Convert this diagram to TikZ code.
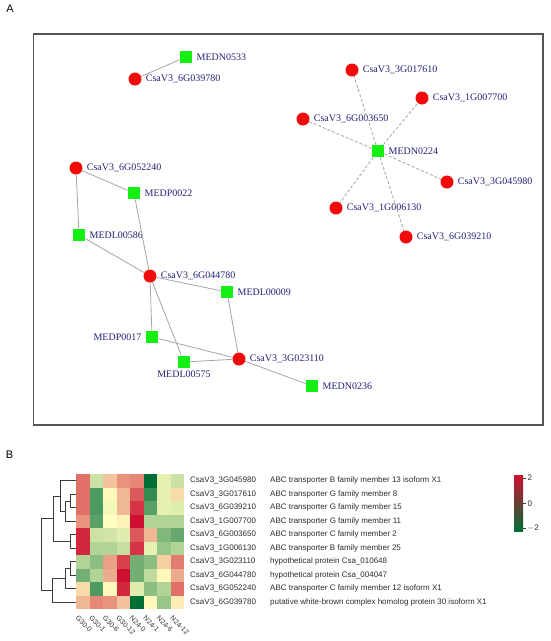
\documentclass[tikz,border=0pt]{standalone}
\usepackage{fontspec}
\setmainfont{Liberation Serif}
\newfontfamily\arialf{Liberation Sans}
\definecolor{netred}{RGB}{240,10,10}
\definecolor{netgreen}{RGB}{20,240,20}
\definecolor{labblue}{RGB}{35,35,120}
\definecolor{edgegray}{RGB}{165,165,165}
\definecolor{boxgray}{RGB}{85,85,85}
\definecolor{hmred}{RGB}{205,16,48}
\definecolor{hmmid}{RGB}{255,255,191}
\definecolor{hmgreen}{RGB}{0,110,55}
\definecolor{dendro}{RGB}{60,60,60}
\definecolor{txtgray}{RGB}{45,45,45}
\tikzset{
  gene/.style={circle, fill=netred, minimum size=13pt, inner sep=0pt},
  met/.style={rectangle, fill=netgreen, minimum size=12.5pt, inner sep=0pt},
  lab/.style={text=labblue, font=\fontsize{10}{11}\selectfont, inner sep=1pt, label distance=3pt},
  edge/.style={draw=edgegray, line width=0.8pt},
  dedge/.style={draw=edgegray, line width=0.8pt, dash pattern=on 3pt off 2pt},
  panel/.style={font=\arialf\fontsize{11}{12}\selectfont, text=black},
  rowlab/.style={font=\arialf\fontsize{8}{9.6}\selectfont, text=txtgray, anchor=west, inner sep=0pt},
  collab/.style={font=\arialf\fontsize{7}{8}\selectfont, text=txtgray, anchor=north west, rotate=-45, inner sep=0pt},
  dline/.style={draw=dendro, line width=0.8pt}
}
\begin{document}
\begin{tikzpicture}[x=1pt,y=-1pt]
\useasboundingbox (0,0) rectangle (550,641);
\fill[white] (0,0) rectangle (550,641);
% panel labels
\node[panel] (pA) at (10,9) {A};
\node[panel] (pB) at (9.5,455) {B};
% network frame
\draw[boxgray, line width=1.4pt] (33.5,34) rectangle (543,425);
% nodes
\node[met]  (m0533) at (186,57)  [label={[lab]right:MEDN0533}] {};
\node[gene] (g9780) at (135,79)  [label={[lab]right:CsaV3\_6G039780}] {};
\node[gene] (g2240) at (76,168)  [label={[lab]right:CsaV3\_6G052240}] {};
\node[met]  (p0022) at (134,193) [label={[lab]right:MEDP0022}] {};
\node[met]  (l0586) at (79,235)  [label={[lab]right:MEDL00586}] {};
\node[gene] (g4780) at (150,276) [label={[lab]right:CsaV3\_6G044780}] {};
\node[met]  (l0009) at (227,292) [label={[lab]right:MEDL00009}] {};
\node[met]  (p0017) at (152,337) [label={[lab]left:MEDP0017}] {};
\node[met]  (l0575) at (184,362) [label={[lab,label distance=1pt]below:MEDL00575}] {};
\node[gene] (g3110) at (239,359) [label={[lab]right:CsaV3\_3G023110}] {};
\node[met]  (n0236) at (312,386) [label={[lab]right:MEDN0236}] {};
\node[gene] (g7610) at (352,70)  [label={[lab]right:CsaV3\_3G017610}] {};
\node[gene] (g7700) at (422,98)  [label={[lab]right:CsaV3\_1G007700}] {};
\node[gene] (g3650) at (303,119) [label={[lab]right:CsaV3\_6G003650}] {};
\node[met]  (n0224) at (378,151) [label={[lab]right:MEDN0224}] {};
\node[gene] (g5980) at (447,182) [label={[lab]right:CsaV3\_3G045980}] {};
\node[gene] (g6130) at (336,208) [label={[lab]right:CsaV3\_1G006130}] {};
\node[gene] (g9210) at (406,237) [label={[lab]right:CsaV3\_6G039210}] {};
% edges
\draw[edge] (m0533) -- (g9780);
\draw[edge] (g2240) -- (p0022);
\draw[edge] (g2240) -- (l0586);
\draw[edge] (p0022) -- (g4780);
\draw[edge] (l0586) -- (g4780);
\draw[edge] (g4780) -- (l0009);
\draw[edge] (g4780) -- (p0017);
\draw[edge] (g4780) -- (l0575);
\draw[edge] (l0009) -- (g3110);
\draw[edge] (p0017) -- (g3110);
\draw[edge] (l0575) -- (g3110);
\draw[edge] (g3110) -- (n0236);
\foreach \g in {g7610,g7700,g3650,g5980,g6130,g9210}
  \draw[dedge] (n0224) -- (\g);
% heatmap
\foreach \rowv [count=\r] in {
 {1.2,-0.4,0.5,0.9,1.0,-2.2,-0.2,-0.4},
 {1.2,-1.4,0.05,0.6,1.4,-1.6,-0.2,0.3},
 {1.2,-1.4,-0.1,0.6,1.7,-1.3,-0.2,-0.25},
 {0.9,-1.3,0.0,0.1,2.0,-0.6,-0.6,-0.6},
 {1.8,-0.4,-0.35,-0.25,1.4,0.6,-1.0,-1.2},
 {1.8,-0.6,-0.6,-0.45,1.7,-0.2,-0.8,-0.6},
 {-0.6,-0.9,0.8,1.6,-1.1,-0.9,0.4,1.1},
 {-1.1,-0.6,0.7,2.0,-1.1,-0.5,0.05,0.7},
 {0.3,-1.4,0.05,1.8,-0.25,-0.9,-0.6,1.2},
 {0.6,1.0,0.9,0.5,-2.2,0.05,-0.8,0.15}} {
  \foreach \v [count=\c] in \rowv {
    \pgfmathsetmacro\pp{min(100,abs(\v)*50)}
    \ifdim \v pt<0pt \colorlet{cc}{hmgreen!\pp!hmmid}\else\colorlet{cc}{hmred!\pp!hmmid}\fi
    \fill[cc] ({76+13.5*(\c-1)},{474+13.5*(\r-1)}) rectangle ++(13.6,13.6);
  }
}
% row labels
\foreach \id/\desc [count=\r] in {
 CsaV3\_3G045980/ABC transporter B family member 13 isoform X1,
 CsaV3\_3G017610/ABC transporter G family member 8,
 CsaV3\_6G039210/ABC transporter G family member 15,
 CsaV3\_1G007700/ABC transporter G family member 11,
 CsaV3\_6G003650/ABC transporter C family member 2,
 CsaV3\_1G006130/ABC transporter B family member 25,
 CsaV3\_3G023110/hypothetical protein Csa\_010648,
 CsaV3\_6G044780/hypothetical protein Csa\_004047,
 CsaV3\_6G052240/ABC transporter C family member 12 isoform X1,
 CsaV3\_6G039780/putative white-brown complex homolog protein 30 isoform X1} {
  \node[rowlab] (id\r) at (190,{474+13.5*(\r-0.5)}) {\id};
  \node[rowlab] (ds\r) at (270,{474+13.5*(\r-0.5)}) {\desc};
}
% column labels
\foreach \cl [count=\c] in {G30-0,G30-1,G30-6,G30-12,N24-0,N24-1,N24-6,N24-12}
  \node[collab] (cl\c) at ({76+13.5*(\c-0.5)-4},615) {\cl};
% dendrogram
\draw[dline] (70,494.25) -- (76,494.25) (70,507.75) -- (76,507.75) (70,494.25) -- (70,507.75);
\draw[dline] (65,501) -- (70,501) (65,521.25) -- (76,521.25) (65,501) -- (65,521.25);
\draw[dline] (60,480.75) -- (76,480.75) (60,511.125) -- (65,511.125) (60,480.75) -- (60,511.125);
\draw[dline] (70,534.75) -- (76,534.75) (70,548.25) -- (76,548.25) (70,534.75) -- (70,548.25);
\draw[dline] (53,495.94) -- (60,495.94) (53,541.5) -- (70,541.5) (53,495.94) -- (53,541.5);
\draw[dline] (70,561.75) -- (76,561.75) (70,575.25) -- (76,575.25) (70,561.75) -- (70,575.25);
\draw[dline] (65,568.5) -- (70,568.5) (65,588.75) -- (76,588.75) (65,568.5) -- (65,588.75);
\draw[dline] (52,578.6) -- (65,578.6) (52,602.25) -- (76,602.25) (52,578.6) -- (52,602.25);
\draw[dline] (41,518.72) -- (53,518.72) (41,590.4) -- (52,590.4) (41,518.72) -- (41,590.4);
% colour bar
\shade[top color=hmred, middle color=hmmid, bottom color=hmgreen] (514,475) rectangle (523,531);
\foreach \t/\yy in {2/478,0/503.5,{$-$2}/528} {
  \draw[dendro, line width=0.6pt] (523,\yy) -- (526,\yy);
  \node[rowlab] at (527.5,\yy) {\t};
}
\end{tikzpicture}
\end{document}
